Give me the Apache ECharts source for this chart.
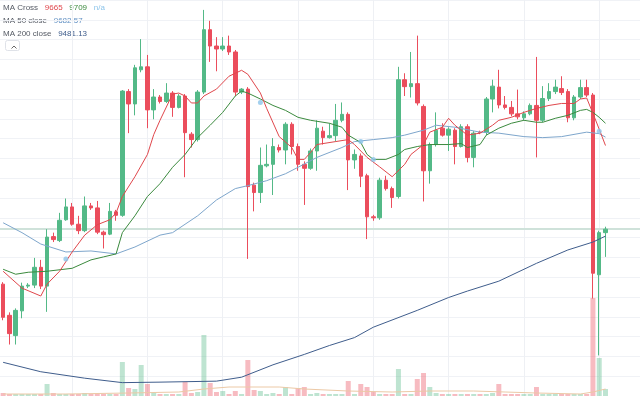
<!DOCTYPE html>
<html>
<head>
<meta charset="utf-8">
<script src="https://cdn.jsdelivr.net/npm/echarts/dist/echarts.min.js"></script>
<style>
html,body{margin:0;padding:0;background:#fff;}
#chart{width:640px;height:396px;}
</style>
</head>
<body>
<div id="chart"></div>
<script>
// ---- data (hourly candles) ----
const categories = [];
for (let i = 0; i < 102; i++) categories.push('H' + i);

const opens = [
 9386,9323,9282,9332,9382,9384,9420,9382,9482,9474,
 9516,9542,9507,9494,9544,9540,9491,9487,9532,9525,
 9775,9750,9819,9825,9738,9764,9755,9772,9743,9766,
 9689,9678,9774,9900,9867,9861,9867,9855,9774,9780,
 9586,9571,9625,9628,9662,9657,9709,9664,9628,9620,
 9655,9695,9682,9686,9717,9729,9637,9645,9605,9522,
 9520,9596,9579,9563,9799,9785,9791,9745,9615,9668,
 9701,9687,9697,9664,9704,9642,9693,9693,9760,9784,
 9748,9743,9730,9722,9730,9747,9717,9761,9775,9781,
 9775,9722,9764,9783,9768,9405,9490];
const closes = [
 9319,9286,9333,9382,9384,9420,9382,9481,9476,9515,
 9542,9507,9494,9544,9540,9491,9486,9533,9525,9776,
 9750,9823,9825,9738,9764,9755,9772,9743,9766,9692,
 9678,9774,9900,9867,9861,9867,9855,9774,9780,9583,
 9571,9626,9628,9664,9657,9709,9664,9628,9620,9655,
 9701,9682,9686,9717,9729,9637,9648,9604,9522,9520,
 9596,9579,9561,9799,9785,9791,9752,9615,9668,9697,
 9687,9699,9664,9704,9642,9691,9692,9760,9786,9748,
 9743,9730,9724,9730,9747,9717,9761,9775,9784,9773,
 9722,9764,9783,9768,9408,9490,9497];
const highs = [
 9390,9329,9337,9389,9388,9439,9435,9497,9490,9530,
 9559,9550,9524,9563,9550,9554,9494,9550,9536,9778,
 9780,9829,9881,9849,9780,9768,9792,9776,9770,9770,
 9693,9778,9940,9918,9885,9885,9888,9859,9782,9784,
 9591,9662,9668,9681,9668,9713,9713,9670,9634,9660,
 9717,9704,9711,9750,9753,9733,9658,9650,9609,9526,
 9601,9605,9583,9825,9812,9855,9888,9749,9672,9733,
 9711,9703,9701,9709,9709,9695,9696,9764,9799,9819,
 9766,9756,9779,9735,9751,9845,9786,9792,9799,9806,
 9780,9768,9799,9799,9772,9494,9502];
const lows = [
 9313,9264,9264,9317,9378,9378,9376,9330,9471,9471,
 9514,9504,9487,9491,9536,9487,9458,9485,9514,9522,
 9691,9727,9814,9701,9719,9751,9752,9724,9741,9602,
 9662,9674,9770,9835,9816,9857,9849,9766,9770,9437,
 9533,9550,9622,9566,9652,9628,9648,9615,9546,9617,
 9615,9668,9680,9674,9713,9576,9619,9582,9477,9514,
 9516,9575,9540,9559,9766,9763,9747,9553,9589,9664,
 9684,9655,9628,9662,9632,9622,9689,9687,9733,9741,
 9739,9725,9719,9717,9727,9642,9713,9756,9770,9768,
 9713,9717,9760,9764,9357,9242,9441];
const volumes = [
 3,2,2,2,2,2,2,12,3,2,
 2,2,2,3,2,2,2,2,2,34,
 8,7,31,12,3,2,2,2,2,14,
 3,4,61,13,4,5,2,5,2,36,
 6,5,2,3,2,9,2,8,9,2,
 3,2,2,2,2,15,2,12,9,4,
 2,2,2,27,2,2,17,23,9,3,
 2,2,2,2,2,2,2,2,3,12,
 2,2,2,2,2,9,2,2,2,2,
 2,2,2,2,98,38,7];

// moving averages: [candle index, value]
const maFast = [[0,9412],[3,9378],[6,9362],[7,9386],[9,9412],[11,9451],[13,9485],[15,9506],[17,9516],[18,9530],[19,9563],[21,9603],[23,9648],[24,9688],[25,9717],[27,9770],[28,9772],[29,9766],[30,9752],[31,9752],[32,9766],[34,9780],[36,9806],[38,9818],[39,9810],[41,9772],[42,9741],[44,9684],[46,9662],[47,9638],[48,9638],[49,9652],[50,9668],[53,9674],[55,9678],[56,9668],[58,9642],[60,9623],[62,9603],[64,9628],[65,9648],[67,9668],[68,9693],[70,9703],[71,9721],[72,9707],[74,9687],[76,9691],[78,9707],[79,9717],[81,9723],[83,9733],[85,9741],[87,9747],[89,9751],[91,9751],[92,9760],[93,9762],[94,9731],[95,9699],[96,9666]];
const maSlow = [[0,9416],[2,9406],[4,9410],[7,9412],[11,9418],[14,9435],[16,9441],[18,9447],[19,9490],[21,9524],[23,9563],[25,9589],[27,9622],[29,9648],[31,9682],[33,9707],[35,9733],[37,9766],[38,9776],[39,9772],[41,9760],[43,9747],[45,9737],[47,9723],[49,9717],[52,9711],[54,9703],[55,9687],[57,9672],[58,9648],[59,9638],[61,9638],[63,9648],[64,9658],[66,9664],[68,9668],[71,9668],[73,9670],[74,9662],[76,9668],[77,9687],[79,9701],[81,9711],[83,9717],[85,9713],[86,9713],[88,9721],[90,9727],[92,9737],[93,9739],[94,9733],[95,9723],[96,9711]];
const ma50 = [[0,9510],[3,9490],[6,9467],[10,9451],[14,9453],[18,9447],[21,9461],[25,9485],[27,9490],[31,9524],[34,9556],[37,9579],[39,9585],[42,9595],[45,9609],[47,9622],[50,9642],[54,9662],[56,9674],[59,9678],[62,9682],[64,9687],[67,9697],[69,9707],[72,9703],[76,9693],[79,9691],[83,9684],[86,9682],[89,9684],[93,9693],[95,9690],[96,9683]];
const ma200 = [[0,9228],[6,9209],[13,9196],[19,9187],[25,9188],[34,9190],[38,9198],[43,9223],[48,9244],[52,9262],[56,9278],[59,9299],[66,9333],[71,9359],[74,9372],[79,9392],[85,9428],[90,9455],[94,9471],[96,9483]];
const volMA = [[0,2],[10,2],[20,3],[28,4],[32,7],[36,9],[44,9],[48,7],[55,5],[62,4],[68,5],[75,5],[80,4],[85,3],[92,2],[94,4],[96,7]];
const crossIdx = [10,41,57,59,95];
const crossVal = [9437,9753,9674,9638,9695];

const dayLineIdx = [11,23,35,47,59,71,83,95];
const legendLabels = ['MA Cross','MA 50 close','MA 200 close'];
const legendValues = [['9665','9709','n/a'],['9682.57'],['9481.13']];

// ---- styling ----
const UP = '#53b987', DOWN = '#eb4d5c';
const UPV = 'rgba(83,185,135,0.38)', DOWNV = 'rgba(235,77,92,0.38)';

const candleData = opens.map((o,i)=>[o, closes[i], lows[i], highs[i]]);
const volData = volumes.map((v,i)=>({value:v, itemStyle:{color: closes[i]>=opens[i]?UPV:DOWNV}}));
const crossData = crossIdx.map((x,i)=>[x, crossVal[i]]);
const lastClose = closes[closes.length-1];

const STEP = 6.34;
const gridLeft = -3.17;
const gridWidth = categories.length*STEP;

const markLines = dayLineIdx.map(x=>({xAxis:x, lineStyle:{color:'#eef0f4', width:1, type:'solid'}}));
markLines.push({yAxis:lastClose, lineStyle:{color:'#cfe2da', width:2, type:'solid'}});

const chart = echarts.init(document.getElementById('chart'), null, {renderer:'canvas'});
const font = 'Liberation Sans';
chart.setOption({
  animation:false,
  backgroundColor:'#ffffff',
  grid:[
    {left:gridLeft, width:gridWidth, top:-8.3, height:406, containLabel:false},
    {left:gridLeft, width:gridWidth, top:296, height:100, containLabel:false}
  ],
  xAxis:[
    {type:'category', data:categories, gridIndex:0, boundaryGap:true, axisLine:{show:false}, axisTick:{show:false}, axisLabel:{show:false}, splitLine:{show:false}},
    {type:'category', data:categories, gridIndex:1, boundaryGap:true, axisLine:{show:false}, axisTick:{show:false}, axisLabel:{show:false}, splitLine:{show:false}}
  ],
  yAxis:[
    {type:'value', gridIndex:0, min:9160, max:9960, interval:40, axisLine:{show:false}, axisTick:{show:false}, axisLabel:{show:false}, splitLine:{show:true, lineStyle:{color:'#f0f2f6', width:1}}},
    {type:'value', gridIndex:1, min:0, max:100, axisLine:{show:false}, axisTick:{show:false}, axisLabel:{show:false}, splitLine:{show:false}}
  ],
  series:[
    {type:'bar', xAxisIndex:1, yAxisIndex:1, data:volData, barWidth:5, z:1, silent:true},
    {type:'line', xAxisIndex:1, yAxisIndex:1, data:volMA, showSymbol:false, connectNulls:true, lineStyle:{color:'#ecc9a6', width:1}, z:2, silent:true},
    {type:'candlestick', xAxisIndex:0, yAxisIndex:0, data:candleData, barWidth:4, z:3,
      itemStyle:{color:UP, color0:DOWN, borderColor:UP, borderColor0:DOWN, borderWidth:1},
      markLine:{silent:true, symbol:['none','none'], label:{show:false}, data:markLines, z:0}
    },
    {type:'line', data:ma200, showSymbol:false, connectNulls:true, lineStyle:{color:'#3f5d8c', width:1}, z:4, silent:true},
    {type:'line', data:ma50, showSymbol:false, connectNulls:true, lineStyle:{color:'#7ea6cc', width:1}, z:4, silent:true},
    {type:'line', data:maSlow, showSymbol:false, connectNulls:true, lineStyle:{color:'#3b8a3e', width:1}, z:5, silent:true},
    {type:'line', data:maFast, showSymbol:false, connectNulls:true, lineStyle:{color:'#e0474c', width:1}, z:5, silent:true},
    {type:'scatter', data:crossData, symbol:'circle', symbolSize:5, itemStyle:{color:'#8cc4ea'}, z:6, silent:true}
  ],
  graphic:[
    {type:'text', left:3, top:2, style:{text:'{l|'+legendLabels[0]+'}  {r|'+legendValues[0][0]+'}  {g|'+legendValues[0][1]+'}  {b|'+legendValues[0][2]+'}',
      rich:{l:{fill:'#555a64',fontSize:8,fontFamily:font}, r:{fill:'#e0474c',fontSize:8,fontFamily:font}, g:{fill:'#3b8a3e',fontSize:8,fontFamily:font}, b:{fill:'#8cc4ea',fontSize:8,fontFamily:font}}}},
    {type:'text', left:3, top:15, style:{text:'{l|'+legendLabels[1]+'}  {v|'+legendValues[1][0]+'}',
      rich:{l:{fill:'#555a64',fontSize:8,fontFamily:font}, v:{fill:'#5f8fc2',fontSize:8,fontFamily:font}}}},
    {type:'text', left:3, top:28, style:{text:'{l|'+legendLabels[2]+'}  {v|'+legendValues[2][0]+'}',
      rich:{l:{fill:'#555a64',fontSize:8,fontFamily:font}, v:{fill:'#3f5d8c',fontSize:8,fontFamily:font}}}},
    {type:'rect', left:5, top:40, shape:{width:14, height:10, r:2}, style:{fill:'#fff', stroke:'#dfe2e8', lineWidth:1}},
    {type:'polyline', left:9, top:43.5, shape:{points:[[0,2.5],[2.5,0],[5,2.5]]}, style:{stroke:'#666', fill:null, lineWidth:1}}
  ]
});
</script>
</body>
</html>
